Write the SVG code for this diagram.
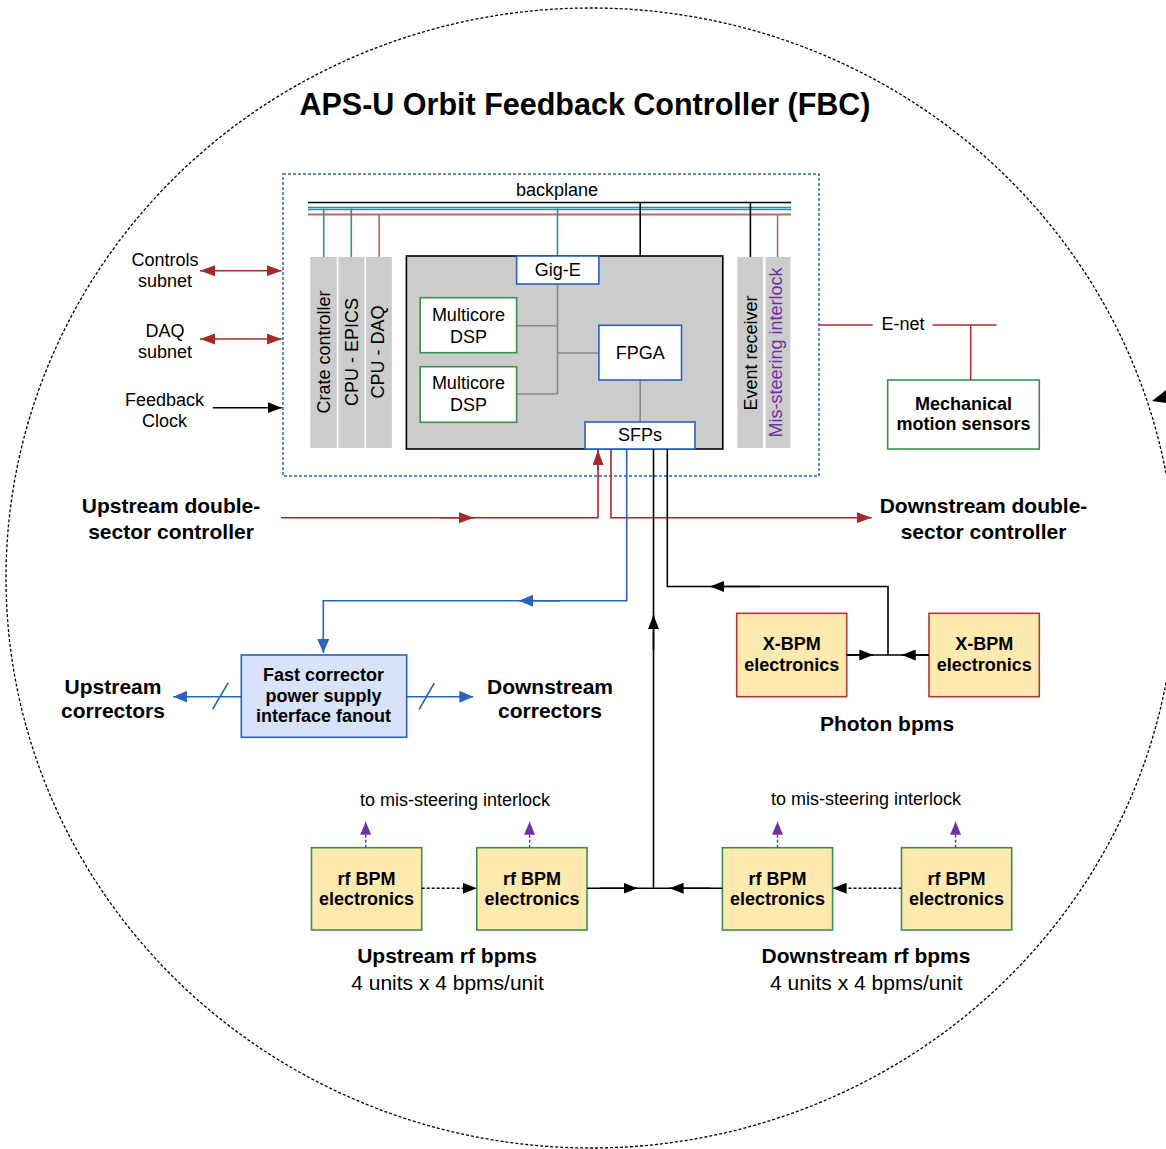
<svg xmlns="http://www.w3.org/2000/svg" width="1166" height="1149" viewBox="0 0 1166 1149">
<style>
text{font-family:"Liberation Sans",Arial,sans-serif;fill:#000}
.r18{font-size:18px}
.b18{font-size:18px;font-weight:bold}
.b21{font-size:21px;font-weight:bold}
.r21{font-size:21px}
.mid{text-anchor:middle}
.bar{fill:#cccccc}
.wbox{fill:#ffffff;stroke:#2a62c0;stroke-width:1.6}
.gbox{fill:#ffffff;stroke:#3a8f4f;stroke-width:1.6}
.ybox{fill:#feeaae;stroke:#3a8f4f;stroke-width:1.6}
.xbox{fill:#feeaae;stroke:#b03a3a;stroke-width:1.6}
.blk{stroke:#000;stroke-width:1.6;fill:none}
.red{stroke:#a52a2a;stroke-width:1.6;fill:none}
.blu{stroke:#2a62c0;stroke-width:1.6;fill:none}
.gry{stroke:#888888;stroke-width:1.6;fill:none}
.pur{stroke:#7030a0;stroke-width:1.4;fill:none;stroke-dasharray:3,2}
.dot{stroke:#000;stroke-width:1.6;fill:none;stroke-dasharray:3,2}
</style>
<defs>
<marker id="ak" markerUnits="userSpaceOnUse" markerWidth="15" markerHeight="11" refX="14" refY="5.5" orient="auto-start-reverse"><path d="M0,0 L14,5.5 L0,11 z" fill="#000"/></marker>
<marker id="ar" markerUnits="userSpaceOnUse" markerWidth="16" markerHeight="11" refX="15" refY="5.5" orient="auto-start-reverse"><path d="M0,0 L15,5.5 L0,11 z" fill="#a52a2a"/></marker>
<marker id="ab" markerUnits="userSpaceOnUse" markerWidth="15" markerHeight="12" refX="14" refY="6" orient="auto-start-reverse"><path d="M0,0 L14,6 L0,12 z" fill="#2a62c0"/></marker>
<marker id="ap" markerUnits="userSpaceOnUse" markerWidth="14" markerHeight="11" refX="13" refY="5.5" orient="auto"><path d="M0,0 L13,5.5 L0,11 z" fill="#7030a0"/></marker>
</defs>
<rect width="1166" height="1149" fill="#ffffff"/>

<g id="boundary">
<ellipse cx="591" cy="578" rx="585" ry="570" fill="none" stroke="#000" stroke-width="1.3" stroke-dasharray="3,2"/>
<polygon points="1152,401 1166,390 1166,403" fill="#000"/>
</g>

<text id="title" class="mid" x="585" y="115" style="font-size:30.5px;font-weight:bold">APS-U Orbit Feedback Controller (FBC)</text>

<g id="fbc-crate">
<rect x="283" y="174" width="536" height="302" fill="none" stroke="#2a62c0" stroke-width="1.5" stroke-dasharray="3,2"/>
<text class="r18 mid" x="557" y="196">backplane</text>
<line x1="308" y1="202.5" x2="791" y2="202.5" stroke="#000" stroke-width="1.6"/>
<line x1="308" y1="207.5" x2="791" y2="207.5" stroke="#2a8f9a" stroke-width="1.3"/>
<line x1="308" y1="209.5" x2="791" y2="209.5" stroke="#2a8f9a" stroke-width="1.3"/>
<line x1="308" y1="214.5" x2="791" y2="214.5" stroke="#b0705a" stroke-width="1.8"/>
<line x1="323.7" y1="208.5" x2="323.7" y2="257" stroke="#2a8f9a" stroke-width="1.6"/>
<line x1="351.3" y1="208.5" x2="351.3" y2="257" stroke="#2a8f9a" stroke-width="1.6"/>
<line x1="379.2" y1="214.5" x2="379.2" y2="257" stroke="#b0705a" stroke-width="1.6"/>
<line x1="557.5" y1="208.5" x2="557.5" y2="256" stroke="#2a8f9a" stroke-width="1.6"/>
<line x1="640.2" y1="202.5" x2="640.2" y2="325.3" stroke="#000" stroke-width="1.6"/>
<line x1="750.4" y1="202.5" x2="750.4" y2="257" stroke="#000" stroke-width="1.6"/>
<line x1="777.6" y1="214.5" x2="777.6" y2="257" stroke="#b0705a" stroke-width="1.6"/>
</g>

<g id="crate-controller">
<rect class="bar" x="310.3" y="257" width="26.5" height="191"/>
<text class="r18 mid" transform="translate(330,352) rotate(-90)">Crate controller</text>
</g>
<g id="cpu-epics">
<rect class="bar" x="338.5" y="257" width="26" height="191"/>
<text class="r18 mid" transform="translate(357.5,352) rotate(-90)">CPU - EPICS</text>
</g>
<g id="cpu-daq">
<rect class="bar" x="366.1" y="257" width="25.8" height="191"/>
<text class="r18 mid" transform="translate(384,352) rotate(-90)">CPU - DAQ</text>
</g>
<g id="event-receiver">
<rect class="bar" x="737.3" y="257" width="25.8" height="191"/>
<text class="r18 mid" transform="translate(757,353) rotate(-90)">Event receiver</text>
</g>
<g id="mis-steering-interlock">
<rect class="bar" x="765.5" y="257" width="24.8" height="191"/>
<text class="r18 mid" style="fill:#7030a0" transform="translate(782,352.5) rotate(-90)">Mis-steering interlock</text>
</g>

<g id="processor-board">
<rect x="406.4" y="256" width="316.4" height="193" fill="#cccccc" stroke="#000" stroke-width="1.6"/>
</g>

<g id="internal-links">
<line class="gry" x1="557.5" y1="284" x2="557.5" y2="394"/>
<line class="gry" x1="516.6" y1="325.7" x2="557.5" y2="325.7"/>
<line class="gry" x1="516.6" y1="394" x2="557.5" y2="394"/>
<line class="gry" x1="557.5" y1="353" x2="598.9" y2="353"/>
<line class="gry" x1="640.2" y1="380" x2="640.2" y2="422"/>
</g>

<g id="gig-e">
<rect class="wbox" x="516.6" y="256" width="82.3" height="28"/>
<text class="r18 mid" x="557.7" y="276">Gig-E</text>
</g>
<g id="dsp1">
<rect class="gbox" x="420.2" y="297.7" width="96.4" height="55"/>
<text class="r18 mid" x="468.4" y="320.7">Multicore</text>
<text class="r18 mid" x="468.4" y="342.7">DSP</text>
</g>
<g id="dsp2">
<rect class="gbox" x="420.2" y="366.7" width="96.4" height="55.6"/>
<text class="r18 mid" x="468.4" y="389.3">Multicore</text>
<text class="r18 mid" x="468.4" y="411">DSP</text>
</g>
<g id="fpga">
<rect class="wbox" x="598.9" y="325.3" width="82.6" height="54.7"/>
<text class="r18 mid" x="640.2" y="358.5">FPGA</text>
</g>
<g id="sfps">
<rect class="wbox" x="585" y="422" width="110" height="27"/>
<text class="r18 mid" x="640" y="441">SFPs</text>
</g>

<g id="left-inputs">
<text class="r18 mid" x="165" y="266">Controls</text>
<text class="r18 mid" x="165" y="287">subnet</text>
<text class="r18 mid" x="165" y="337">DAQ</text>
<text class="r18 mid" x="165" y="358">subnet</text>
<text class="r18 mid" x="164.5" y="405.5">Feedback</text>
<text class="r18 mid" x="164.5" y="426.5">Clock</text>
</g>

<g id="enet">
<text class="r18" x="881.5" y="329.5">E-net</text>
</g>
<g id="mechanical-sensors">
<rect class="gbox" x="887.7" y="380" width="151.6" height="69"/>
<text class="b18 mid" x="963.5" y="410">Mechanical</text>
<text class="b18 mid" x="963.5" y="430">motion sensors</text>
</g>

<g id="upstream-dsc">
<text class="b21 mid" x="171" y="512.5">Upstream double-</text>
<text class="b21 mid" x="171" y="538.5">sector controller</text>
</g>
<g id="downstream-dsc">
<text class="b21 mid" x="983.5" y="512.5">Downstream double-</text>
<text class="b21 mid" x="983.5" y="538.5">sector controller</text>
</g>

<g id="fast-corrector">
<rect x="241.3" y="655" width="165.4" height="82.3" fill="#d9e2fb" stroke="#2a62c0" stroke-width="1.6"/>
<text class="b18 mid" x="323.5" y="680.7">Fast corrector</text>
<text class="b18 mid" x="323.5" y="701.5">power supply</text>
<text class="b18 mid" x="323.5" y="722.3">interface fanout</text>
</g>
<g id="upstream-correctors">
<text class="b21 mid" x="113" y="694">Upstream</text>
<text class="b21 mid" x="113" y="718">correctors</text>
</g>
<g id="downstream-correctors">
<text class="b21 mid" x="550" y="694">Downstream</text>
<text class="b21 mid" x="550" y="718">correctors</text>
</g>

<g id="xbpm1">
<rect class="xbox" x="736.7" y="613.3" width="110" height="83.4"/>
<text class="b18 mid" x="791.7" y="650">X-BPM</text>
<text class="b18 mid" x="791.7" y="671">electronics</text>
</g>
<g id="xbpm2">
<rect class="xbox" x="929" y="613.3" width="110.3" height="83.4"/>
<text class="b18 mid" x="984.2" y="650">X-BPM</text>
<text class="b18 mid" x="984.2" y="671">electronics</text>
</g>
<text id="photon-bpms" class="b21 mid" x="887" y="731">Photon bpms</text>

<g id="rfbpm1">
<rect class="ybox" x="311.5" y="847.7" width="110.2" height="82.3"/>
<text class="b18 mid" x="366.6" y="885">rf BPM</text>
<text class="b18 mid" x="366.6" y="905">electronics</text>
</g>
<g id="rfbpm2">
<rect class="ybox" x="476.8" y="847.7" width="110.2" height="82.3"/>
<text class="b18 mid" x="531.9" y="885">rf BPM</text>
<text class="b18 mid" x="531.9" y="905">electronics</text>
</g>
<g id="rfbpm3">
<rect class="ybox" x="722.4" y="847.7" width="110.2" height="82.3"/>
<text class="b18 mid" x="777.5" y="885">rf BPM</text>
<text class="b18 mid" x="777.5" y="905">electronics</text>
</g>
<g id="rfbpm4">
<rect class="ybox" x="901.5" y="847.7" width="110.2" height="82.3"/>
<text class="b18 mid" x="956.6" y="885">rf BPM</text>
<text class="b18 mid" x="956.6" y="905">electronics</text>
</g>

<g id="labels-bottom">
<text class="r18 mid" x="455" y="806">to mis-steering interlock</text>
<text class="r18 mid" x="866" y="805">to mis-steering interlock</text>
<text class="b21 mid" x="447" y="963">Upstream rf bpms</text>
<text class="r21 mid" x="447.5" y="989.5">4 units x 4 bpms/unit</text>
<text class="b21 mid" x="866" y="963">Downstream rf bpms</text>
<text class="r21 mid" x="866.3" y="989.5">4 units x 4 bpms/unit</text>
</g>

<g id="connectors">
<line class="red" x1="200" y1="270.7" x2="281.7" y2="270.7" marker-start="url(#ar)" marker-end="url(#ar)"/>
<line class="red" x1="200" y1="339" x2="281.7" y2="339" marker-start="url(#ar)" marker-end="url(#ar)"/>
<line class="blk" x1="212.7" y1="407.7" x2="281.7" y2="407.7" marker-end="url(#ak)"/>
<line x1="819" y1="325" x2="872.7" y2="325" stroke="#b3262b" stroke-width="1.5"/>
<line x1="932.7" y1="325" x2="996.7" y2="325" stroke="#b3262b" stroke-width="1.5"/>
<line x1="970.7" y1="325" x2="970.7" y2="380" stroke="#b3262b" stroke-width="1.5"/>
<polyline class="red" points="281,517.7 598,517.7 598,450"/>
<line class="red" x1="598" y1="470" x2="598" y2="450" marker-end="url(#ar)"/>
<line class="red" x1="440" y1="517.7" x2="474" y2="517.7" marker-end="url(#ar)"/>
<polyline class="red" points="611,449 611,517.7 871.7,517.7" marker-end="url(#ar)"/>
<polyline class="blu" points="626.7,449 626.7,600.7 323.3,600.7 323.3,653" marker-end="url(#ab)"/>
<line class="blu" x1="560" y1="600.7" x2="519" y2="600.7" marker-end="url(#ab)"/>
<line class="blu" x1="241.3" y1="696.7" x2="173.3" y2="696.7" marker-end="url(#ab)"/>
<line class="blu" x1="212.7" y1="709" x2="228.3" y2="682.7"/>
<line class="blu" x1="406.7" y1="696.7" x2="473.3" y2="696.7" marker-end="url(#ab)"/>
<line class="blu" x1="419" y1="709.7" x2="434.3" y2="683"/>
<line class="blk" x1="653.5" y1="888.3" x2="653.5" y2="449"/>
<line class="blk" x1="653.5" y1="650" x2="653.5" y2="615" marker-end="url(#ak)"/>
<polyline class="blk" points="667.3,449 667.3,586.5 888,586.5 888,655"/>
<line class="blk" x1="760" y1="586.5" x2="710" y2="586.5" marker-end="url(#ak)"/>
<line class="blk" x1="846.7" y1="655" x2="888" y2="655"/>
<line class="blk" x1="846.7" y1="655" x2="873.3" y2="655" marker-end="url(#ak)"/>
<line class="blk" x1="929" y1="655" x2="888" y2="655"/>
<line class="blk" x1="929" y1="655" x2="901.7" y2="655" marker-end="url(#ak)"/>
<line class="dot" x1="421.7" y1="888.3" x2="476.8" y2="888.3" marker-end="url(#ak)"/>
<line class="blk" x1="587" y1="888.3" x2="653.5" y2="888.3"/>
<line class="blk" x1="600" y1="888.3" x2="637.5" y2="888.3" marker-end="url(#ak)"/>
<line class="blk" x1="722.4" y1="888.3" x2="653.5" y2="888.3"/>
<line class="blk" x1="710" y1="888.3" x2="669.6" y2="888.3" marker-end="url(#ak)"/>
<line class="dot" x1="901.5" y1="888.3" x2="832.6" y2="888.3" marker-end="url(#ak)"/>
<line class="pur" x1="365.7" y1="847.7" x2="365.7" y2="821.7" marker-end="url(#ap)"/>
<line class="pur" x1="529.6" y1="847.7" x2="529.6" y2="821.7" marker-end="url(#ap)"/>
<line class="pur" x1="777.5" y1="847.7" x2="777.5" y2="821.7" marker-end="url(#ap)"/>
<line class="pur" x1="955.6" y1="847.7" x2="955.6" y2="821.7" marker-end="url(#ap)"/>
</g>
</svg>
